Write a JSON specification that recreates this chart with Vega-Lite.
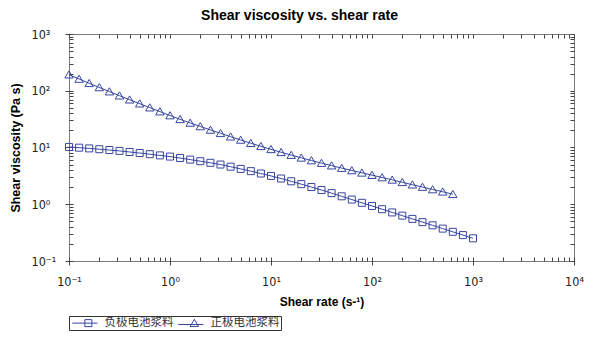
{
  "$schema": "https://vega.github.io/schema/vega-lite/v6.json",
  "width": 505,
  "height": 227,
  "autosize": "none",
  "padding": {"left": 69, "top": 34, "right": 26, "bottom": 77},
  "background": "white",
  "title": {"text": "Shear viscosity vs. shear rate", "font": "Liberation Sans", "fontSize": 14, "fontWeight": "bold", "color": "#000000", "anchor": "middle", "dx": -22, "offset": 5},
  "config": {
    "view": {"stroke": "#7a7a7a", "strokeWidth": 1},
    "axis": {"grid": false, "domain": false, "ticks": true, "labelOverlap": false, "labelFlush": false, "labelBound": false, "tickColor": "#444444", "tickWidth": 1}
  },
  "data": {"values": [
    {"series": "负极电池浆料", "rate": 0.1, "visc": 10.23},
    {"series": "负极电池浆料", "rate": 0.1259, "visc": 9.93},
    {"series": "负极电池浆料", "rate": 0.1585, "visc": 9.64},
    {"series": "负极电池浆料", "rate": 0.1995, "visc": 9.33},
    {"series": "负极电池浆料", "rate": 0.2512, "visc": 9.02},
    {"series": "负极电池浆料", "rate": 0.3162, "visc": 8.71},
    {"series": "负极电池浆料", "rate": 0.3981, "visc": 8.34},
    {"series": "负极电池浆料", "rate": 0.5012, "visc": 7.98},
    {"series": "负极电池浆料", "rate": 0.631, "visc": 7.62},
    {"series": "负极电池浆料", "rate": 0.7943, "visc": 7.26},
    {"series": "负极电池浆料", "rate": 1, "visc": 6.92},
    {"series": "负极电池浆料", "rate": 1.259, "visc": 6.52},
    {"series": "负极电池浆料", "rate": 1.585, "visc": 6.12},
    {"series": "负极电池浆料", "rate": 1.995, "visc": 5.74},
    {"series": "负极电池浆料", "rate": 2.512, "visc": 5.37},
    {"series": "负极电池浆料", "rate": 3.162, "visc": 5.01},
    {"series": "负极电池浆料", "rate": 3.981, "visc": 4.59},
    {"series": "负极电池浆料", "rate": 5.012, "visc": 4.2},
    {"series": "负极电池浆料", "rate": 6.31, "visc": 3.83},
    {"series": "负极电池浆料", "rate": 7.943, "visc": 3.48},
    {"series": "负极电池浆料", "rate": 10, "visc": 3.16},
    {"series": "负极电池浆料", "rate": 12.59, "visc": 2.84},
    {"series": "负极电池浆料", "rate": 15.85, "visc": 2.54},
    {"series": "负极电池浆料", "rate": 19.95, "visc": 2.26},
    {"series": "负极电池浆料", "rate": 25.12, "visc": 2.01},
    {"series": "负极电池浆料", "rate": 31.62, "visc": 1.78},
    {"series": "负极电池浆料", "rate": 39.81, "visc": 1.57},
    {"series": "负极电池浆料", "rate": 50.12, "visc": 1.38},
    {"series": "负极电池浆料", "rate": 63.1, "visc": 1.21},
    {"series": "负极电池浆料", "rate": 79.43, "visc": 1.06},
    {"series": "负极电池浆料", "rate": 100, "visc": 0.933},
    {"series": "负极电池浆料", "rate": 125.9, "visc": 0.818},
    {"series": "负极电池浆料", "rate": 158.5, "visc": 0.718},
    {"series": "负极电池浆料", "rate": 199.5, "visc": 0.63},
    {"series": "负极电池浆料", "rate": 251.2, "visc": 0.552},
    {"series": "负极电池浆料", "rate": 316.2, "visc": 0.484},
    {"series": "负极电池浆料", "rate": 398.1, "visc": 0.425},
    {"series": "负极电池浆料", "rate": 501.2, "visc": 0.372},
    {"series": "负极电池浆料", "rate": 631, "visc": 0.327},
    {"series": "负极电池浆料", "rate": 794.3, "visc": 0.286},
    {"series": "负极电池浆料", "rate": 1000, "visc": 0.251},
    {"series": "正极电池浆料", "rate": 0.1, "visc": 191.9},
    {"series": "正极电池浆料", "rate": 0.1259, "visc": 161.1},
    {"series": "正极电池浆料", "rate": 0.1585, "visc": 135.5},
    {"series": "正极电池浆料", "rate": 0.1995, "visc": 114.3},
    {"series": "正极电池浆料", "rate": 0.2512, "visc": 96.6},
    {"series": "正极电池浆料", "rate": 0.3162, "visc": 81.8},
    {"series": "正极电池浆料", "rate": 0.3981, "visc": 69.5},
    {"series": "正极电池浆料", "rate": 0.5012, "visc": 59.2},
    {"series": "正极电池浆料", "rate": 0.631, "visc": 50.4},
    {"series": "正极电池浆料", "rate": 0.7943, "visc": 42.9},
    {"series": "正极电池浆料", "rate": 1, "visc": 36.6},
    {"series": "正极电池浆料", "rate": 1.259, "visc": 31.4},
    {"series": "正极电池浆料", "rate": 1.585, "visc": 27.1},
    {"series": "正极电池浆料", "rate": 1.995, "visc": 23.5},
    {"series": "正极电池浆料", "rate": 2.512, "visc": 20.4},
    {"series": "正极电池浆料", "rate": 3.162, "visc": 17.8},
    {"series": "正极电池浆料", "rate": 3.981, "visc": 15.5},
    {"series": "正极电池浆料", "rate": 5.012, "visc": 13.6},
    {"series": "正极电池浆料", "rate": 6.31, "visc": 11.9},
    {"series": "正极电池浆料", "rate": 7.943, "visc": 10.5},
    {"series": "正极电池浆料", "rate": 10, "visc": 9.29},
    {"series": "正极电池浆料", "rate": 12.59, "visc": 8.24},
    {"series": "正极电池浆料", "rate": 15.85, "visc": 7.35},
    {"series": "正极电池浆料", "rate": 19.95, "visc": 6.58},
    {"series": "正极电池浆料", "rate": 25.12, "visc": 5.9},
    {"series": "正极电池浆料", "rate": 31.62, "visc": 5.31},
    {"series": "正极电池浆料", "rate": 39.81, "visc": 4.79},
    {"series": "正极电池浆料", "rate": 50.12, "visc": 4.34},
    {"series": "正极电池浆料", "rate": 63.1, "visc": 3.94},
    {"series": "正极电池浆料", "rate": 79.43, "visc": 3.58},
    {"series": "正极电池浆料", "rate": 100, "visc": 3.26},
    {"series": "正极电池浆料", "rate": 125.9, "visc": 2.96},
    {"series": "正极电池浆料", "rate": 158.5, "visc": 2.69},
    {"series": "正极电池浆料", "rate": 199.5, "visc": 2.44},
    {"series": "正极电池浆料", "rate": 251.2, "visc": 2.21},
    {"series": "正极电池浆料", "rate": 316.2, "visc": 2.01},
    {"series": "正极电池浆料", "rate": 398.1, "visc": 1.82},
    {"series": "正极电池浆料", "rate": 501.2, "visc": 1.66},
    {"series": "正极电池浆料", "rate": 631, "visc": 1.5}
  ]},
  "layer": [
    {
      "mark": {"type": "line", "stroke": "#3846a0", "strokeWidth": 1},
      "encoding": {
        "x": {"field": "rate", "type": "quantitative", "scale": {"type": "log", "domain": [0.1, 10000]},
          "axis": {"orient": "bottom", "offset": -4, "tickSize": 8,
            "values": [0.1, 1, 10, 100, 1000, 10000],
            "labelExpr": "datum.value == 0.1 ? '10⁻¹' : datum.value == 1 ? '10⁰' : datum.value == 10 ? '10¹' : datum.value == 100 ? '10²' : datum.value == 1000 ? '10³' : '10⁴'",
            "labelFont": "Liberation Sans Narrow, DejaVu Sans Condensed, Liberation Sans", "labelFontSize": 12.5, "labelColor": "#222222", "labelPadding": 10,
            "title": "Shear rate (s-¹)", "titleFont": "Liberation Sans", "titleFontSize": 12, "titleFontWeight": "bold", "titleColor": "#000000", "titlePadding": 9}},
        "y": {"field": "visc", "type": "quantitative", "scale": {"type": "log", "domain": [0.1, 1000]},
          "axis": {"orient": "left", "offset": -4, "tickSize": 8,
            "values": [0.1, 1, 10, 100, 1000],
            "labelExpr": "datum.value == 0.1 ? '10⁻¹' : datum.value == 1 ? '10⁰' : datum.value == 10 ? '10¹' : datum.value == 100 ? '10²' : '10³'",
            "labelFont": "Liberation Sans Narrow, DejaVu Sans Condensed, Liberation Sans", "labelFontSize": 12.5, "labelColor": "#222222", "labelAlign": "left", "labelPadding": 34,
            "title": "Shear viscosity (Pa s)", "titleFont": "Liberation Sans", "titleFontSize": 12.5, "titleFontWeight": "bold", "titleColor": "#000000", "titlePadding": 9}},
        "detail": {"field": "series", "type": "nominal"}
      }
    },
    {
      "mark": {"type": "point", "filled": false, "stroke": "#3846a0", "strokeWidth": 1, "size": 49, "opacity": 1},
      "encoding": {
        "x": {"field": "rate", "type": "quantitative",
          "axis": {"orient": "bottom", "offset": -4, "tickSize": 4, "labels": false, "title": null,
            "values": [0.2,0.3,0.4,0.5,0.6,0.7,0.8,0.9,2,3,4,5,6,7,8,9,20,30,40,50,60,70,80,90,200,300,400,500,600,700,800,900,2000,3000,4000,5000,6000,7000,8000,9000]}},
        "y": {"field": "visc", "type": "quantitative",
          "axis": {"orient": "left", "offset": -4, "tickSize": 4, "labels": false, "title": null,
            "values": [0.2,0.3,0.4,0.5,0.6,0.7,0.8,0.9,2,3,4,5,6,7,8,9,20,30,40,50,60,70,80,90,200,300,400,500,600,700,800,900]}},
        "shape": {"field": "series", "type": "nominal",
          "scale": {"domain": ["负极电池浆料", "正极电池浆料"], "range": ["M-1,-1H1V1H-1Z", "M0,-1.1L1.2,0.95H-1.2Z"]},
          "legend": null}
      }
    },
    {
      "transform": [{"filter": "false"}],
      "mark": {"type": "point", "filled": false, "stroke": "#3846a0", "strokeWidth": 1, "size": 49},
      "encoding": {
        "x": {"field": "rate", "type": "quantitative",
          "axis": {"orient": "top", "offset": -4, "labels": false, "title": null, "tickSize": 4,
            "values": [0.1,0.2,0.3,0.4,0.5,0.6,0.7,0.8,0.9,1,2,3,4,5,6,7,8,9,10,20,30,40,50,60,70,80,90,100,200,300,400,500,600,700,800,900,1000,2000,3000,4000,5000,6000,7000,8000,9000,10000]}},
        "y": {"field": "visc", "type": "quantitative",
          "axis": {"orient": "right", "offset": -4, "labels": false, "title": null, "tickSize": 4,
            "values": [0.1,0.2,0.3,0.4,0.5,0.6,0.7,0.8,0.9,1,2,3,4,5,6,7,8,9,10,20,30,40,50,60,70,80,90,100,200,300,400,500,600,700,800,900,1000]}},
        "shape": {"field": "series", "type": "nominal",
          "scale": {"domain": ["负极电池浆料", "正极电池浆料"], "range": ["M-1,0H6.2M2.6,-1H4.6V1H2.6Z", "M-1,0.4H6.2M3.6,-1.1L4.8,0.95H2.4Z"]},
          "legend": {"title": null, "orient": "none", "legendX": 0, "legendY": 282, "direction": "horizontal",
            "strokeColor": "#333333", "padding": 1, "symbolSize": 49, "symbolStrokeWidth": 1, "symbolStrokeColor": "#3846a0", "symbolFillColor": "transparent", "symbolOpacity": 1,
            "labelFont": "Noto Sans CJK SC", "labelFontSize": 11.5, "labelColor": "#333333", "labelOffset": 23, "columnPadding": 2}}
      }
    }
  ],
  "resolve": {"axis": {"x": "independent", "y": "independent"}, "scale": {"shape": "independent"}, "legend": {"shape": "independent"}}
}
